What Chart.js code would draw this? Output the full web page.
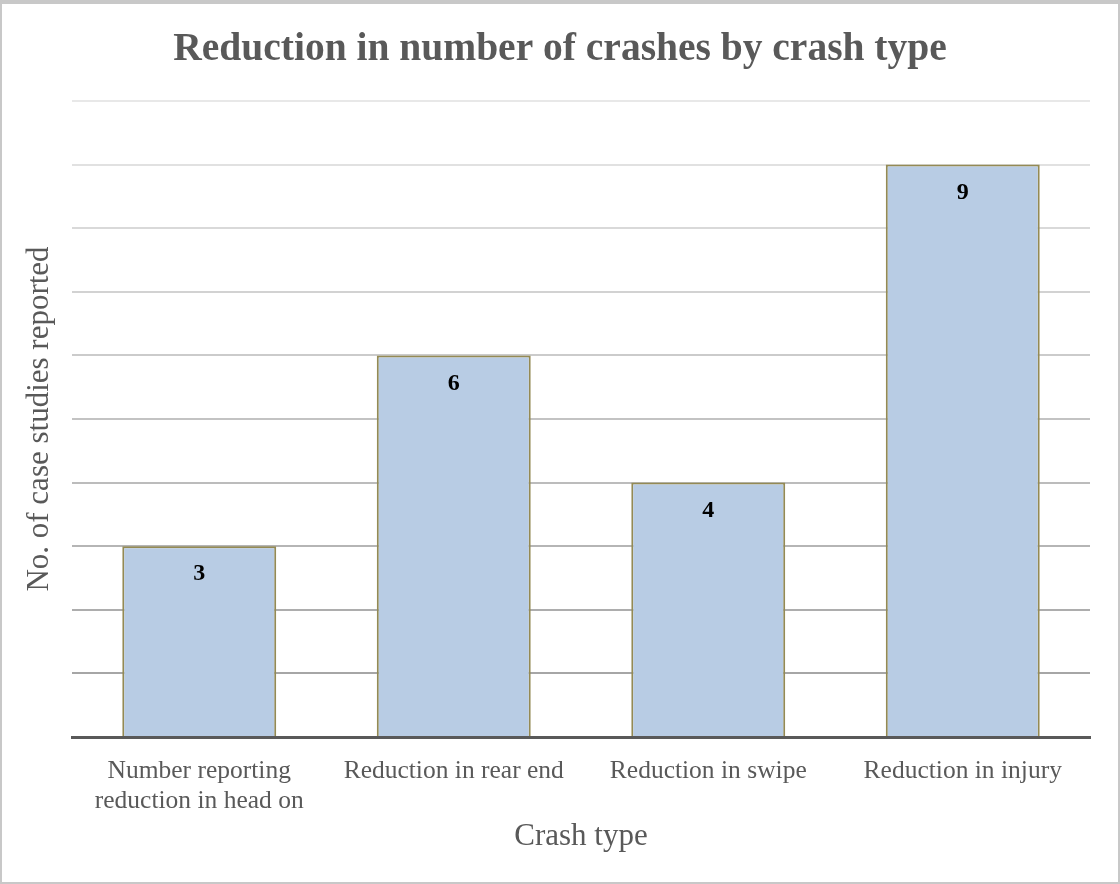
<!DOCTYPE html>
<html>
<head>
<meta charset="utf-8">
<script src="https://cdn.jsdelivr.net/npm/chart.js@4/dist/chart.umd.min.js"></script>
<style>
  html, body { margin: 0; padding: 0; background: #ffffff; }
  #wrap { position: relative; width: 1120px; height: 884px; }
  #frame {
    position: absolute; left: 0; top: 0; width: 1120px; height: 884px;
    box-sizing: border-box; pointer-events: none;
    border-style: solid; border-color: #c8c8c8;
    border-width: 4px 2px 2px 2px;
  }
</style>
</head>
<body>
<div id="wrap">
  <canvas id="crashChart" width="1120" height="884"></canvas>
  <div id="frame"></div>
</div>
<script>
const crashTypes = [
  ['Number reporting', 'reduction in head on'],
  'Reduction in rear end',
  'Reduction in swipe',
  'Reduction in injury'
];
const caseStudies = [3, 6, 4, 9];
const yMax = 10;

const textGray = '#595959';
const serif = "'Liberation Serif', 'Times New Roman', serif";

// gridlines fade from mid gray at the bottom to very light at the top
function gridColor(ctx) {
  const v = ctx.tick.value;
  if (v === 0) return 'rgba(0,0,0,0)';
  const g = Math.round(166 + (v - 1) * (232 - 166) / (yMax - 1));
  return 'rgb(' + g + ',' + g + ',' + g + ')';
}

// value labels inside the top of each bar
const barValueLabels = {
  id: 'barValueLabels',
  afterDatasetsDraw(chart) {
    const ctx = chart.ctx;
    const meta = chart.getDatasetMeta(0);
    ctx.save();
    ctx.font = "bold 24px " + serif;
    ctx.fillStyle = '#000000';
    ctx.textAlign = 'center';
    ctx.textBaseline = 'middle';
    meta.data.forEach((bar, i) => {
      ctx.fillText(String(chart.data.datasets[0].data[i]), bar.x, bar.y + 28);
    });
    ctx.restore();
  }
};

const ctx = document.getElementById('crashChart').getContext('2d');
new Chart(ctx, {
  type: 'bar',
  data: {
    labels: crashTypes,
    datasets: [{
      label: 'No. of case studies reported',
      data: caseStudies,
      backgroundColor: '#b8cce4',
      borderColor: '#948a54',
      borderWidth: 2,
      borderSkipped: 'bottom',
      categoryPercentage: 1,
      barPercentage: 0.605
    }]
  },
  options: {
    responsive: false,
    animation: false,
    layout: {
      padding: { left: 30, right: 30, top: 0, bottom: 20 }
    },
    plugins: {
      legend: { display: false },
      tooltip: { enabled: false },
      title: {
        display: true,
        text: 'Reduction in number of crashes by crash type',
        color: textGray,
        font: { family: serif, size: 39.5, weight: 'bold' },
        padding: { top: 26.3, bottom: 27.3 }
      }
    },
    scales: {
      x: {
        grid: { display: false, drawTicks: false },
        border: { display: true, color: textGray, width: 3 },
        ticks: {
          color: textGray,
          font: { family: serif, size: 25.5, lineHeight: '30px' },
          padding: 19,
          maxRotation: 0,
          autoSkip: false
        },
        title: {
          display: true,
          text: 'Crash type',
          color: textGray,
          font: { family: serif, size: 31 },
          padding: { top: -16.6, bottom: 8.4 }
        }
      },
      y: {
        min: 0,
        max: yMax,
        ticks: { display: false, stepSize: 1 },
        grid: { color: gridColor, lineWidth: 2, drawTicks: false },
        border: { display: false },
        title: {
          display: true,
          text: 'No. of case studies reported',
          color: textGray,
          font: { family: serif, size: 31 },
          padding: { top: -8.6, bottom: 13.4 }
        }
      }
    }
  },
  plugins: [barValueLabels]
});
</script>
</body>
</html>
